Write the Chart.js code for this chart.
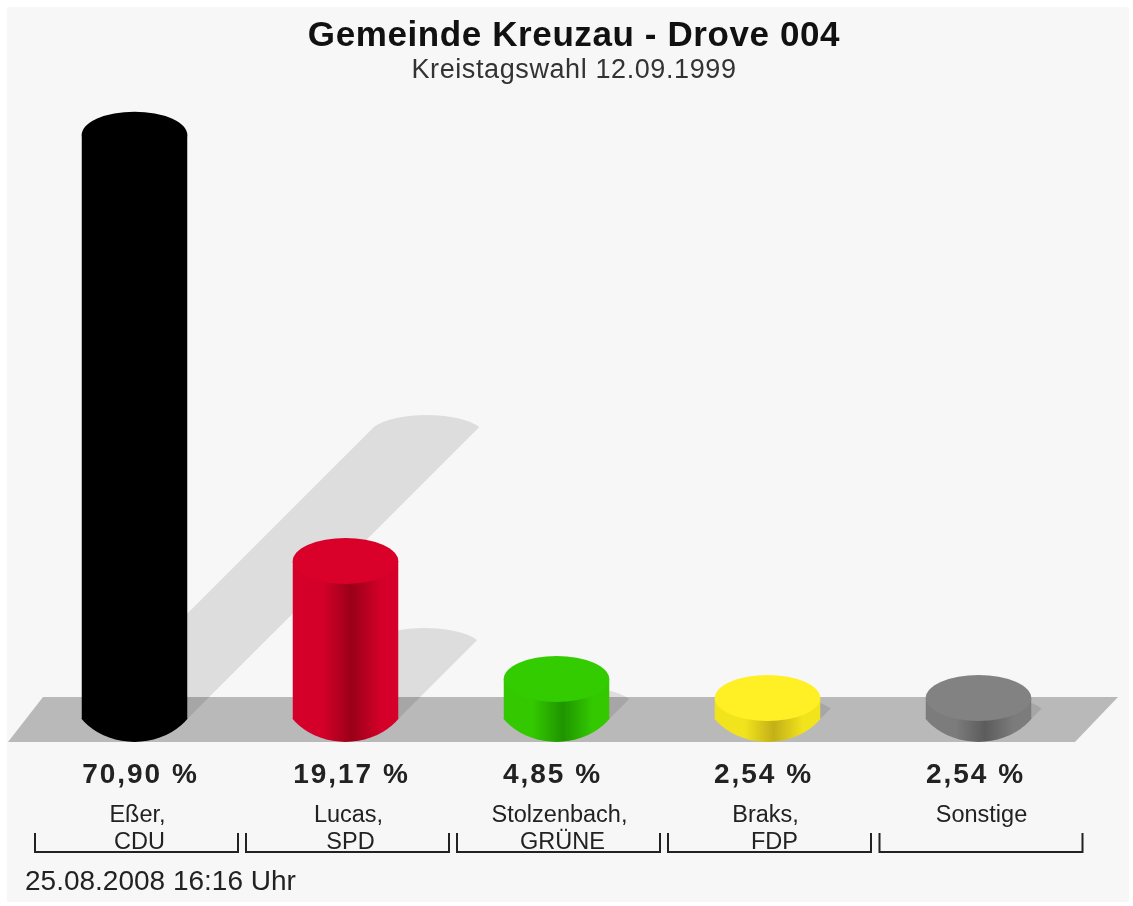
<!DOCTYPE html>
<html>
<head>
<meta charset="utf-8">
<title>Gemeinde Kreuzau - Drove 004</title>
<style>
  body { margin: 0; background: #fff; }
  canvas { display: block; filter: blur(0.5px); }
</style>
</head>
<body>
<canvas id="myChart" width="1133" height="906"></canvas>
<script src="https://cdn.jsdelivr.net/npm/chart.js@4/dist/chart.umd.js"></script>
<script>
const categories = [['Eßer,', 'CDU'], ['Lucas,', 'SPD'], ['Stolzenbach,', 'GRÜNE'], ['Braks,', 'FDP'], ['Sonstige']];
const values = [70.90, 19.17, 4.85, 2.54, 2.54];
const titleText = 'Gemeinde Kreuzau - Drove 004';
const subtitleText = 'Kreistagswahl 12.09.1999';
const footerText = '25.08.2008 16:16 Uhr';

// farben: seite, dunkle mitte, deckel
const sideColors = ['#000000', '#d4002a', '#33c800', '#f2e41c', '#7c7c7c'];
const darkColors = ['#000000', '#9a0018', '#1f9400', '#c2b018', '#5c5c5c'];
const topColors = ['#000000', '#d9002a', '#33cc00', '#fff026', '#828282'];

// die beschriftungen sitzen im original nicht genau mittig
const valueNudge = [6, 6, -4, -4, -3];
const nameNudge = [[3, 5], [3, 5], [3, 6], [-2, 7], [3]];
const bracketNudge = [2, 2, 2, 2, 2.5];

const textColor = '#222222';
const ry = 23;

function sideGradient(c, left, width, i) {
  let g = c.createLinearGradient(left, 0, left + width, 0);
  g.addColorStop(0, sideColors[i]);
  g.addColorStop(0.28, sideColors[i]);
  g.addColorStop(0.56, darkColors[i]);
  g.addColorStop(0.84, sideColors[i]);
  g.addColorStop(1, sideColors[i]);
  return g;
}

const cylinders = {
  id: 'cylinders',
  // boden und schatten liegen hinter den balken
  beforeDatasetsDraw(chart) {
    const c = chart.ctx;
    const y = chart.scales.y;
    const area = chart.chartArea;
    const base = y.getPixelForValue(0);

    c.save();
    c.fillStyle = '#b9b9b9';
    c.beginPath();
    c.moveTo(area.left + 14, base - 22);
    c.lineTo(area.right + 34, base - 22);
    c.lineTo(area.right - 9, base + 23);
    c.lineTo(area.left - 21, base + 23);
    c.closePath();
    c.fill();

    chart.getDatasetMeta(0).data.forEach((bar, i) => {
      const half = bar.width / 2;
      const d = (base - y.getPixelForValue(values[i])) / 2;
      const top = base - d;
      c.fillStyle = 'rgba(0,0,0,0.1)';
      c.beginPath();
      c.moveTo(bar.x - half, base);
      c.lineTo(bar.x - half + d, top);
      c.bezierCurveTo(bar.x - half * 0.6 + d, top - 16, bar.x + half * 0.6 + d, top - 16, bar.x + half + d, top);
      c.lineTo(bar.x + half, base);
      c.closePath();
      c.fill();
    });
    c.restore();
  },
  afterDatasetsDraw(chart) {
    const c = chart.ctx;
    const y = chart.scales.y;
    const base = y.getPixelForValue(0);

    chart.getDatasetMeta(0).data.forEach((bar, i) => {
      const half = bar.width / 2;
      const left = bar.x - half;

      // unterer bogen, flacher als der deckel
      c.save();
      c.beginPath();
      c.rect(left, base - 1, bar.width, ry + 4);
      c.clip();
      c.fillStyle = sideGradient(c, left, bar.width, i);
      c.beginPath();
      c.ellipse(bar.x, base - 34.5, half * 1.25, 57.5, 0, 0, 2 * Math.PI);
      c.fill();
      c.restore();

      // deckel
      c.fillStyle = topColors[i];
      c.beginPath();
      c.ellipse(bar.x, bar.y, half, ry, 0, 0, 2 * Math.PI);
      c.fill();
    });
  }
};

const texts = {
  id: 'texts',
  afterDraw(chart) {
    const c = chart.ctx;
    const x = chart.scales.x;

    c.save();
    c.fillStyle = textColor;
    c.strokeStyle = textColor;
    c.textBaseline = 'alphabetic';

    chart.data.labels.forEach((label, i) => {
      const center = x.getPixelForTick(i);

      c.textAlign = 'center';
      c.font = 'bold 28px "Liberation Sans"';
      c.letterSpacing = '2px';
      c.fillText(values[i].toFixed(2).replace('.', ',') + ' %', center + valueNudge[i], 783);

      c.font = '23.5px "Liberation Sans"';
      c.letterSpacing = '0px';
      label.forEach((line, n) => {
        c.fillText(line, center + nameNudge[i][n], 822 + n * 27);
      });

      // klammer unter der spalte
      const mid = center + bracketNudge[i];
      c.lineWidth = 2;
      c.beginPath();
      c.moveTo(mid - 101.5, 833);
      c.lineTo(mid - 101.5, 852);
      c.lineTo(mid + 101.5, 852);
      c.lineTo(mid + 101.5, 833);
      c.stroke();
    });

    c.textAlign = 'left';
    c.font = '28px "Liberation Sans"';
    c.fillText(footerText, 25, 890);
    c.restore();
  }
};

const background = {
  id: 'background',
  beforeDraw(chart) {
    // weisser rand wie im original
    chart.ctx.fillStyle = '#f7f7f7';
    chart.ctx.fillRect(7, 7, 1122, 895);
    // titel und untertitel sind leicht gesperrt
    chart.ctx.letterSpacing = '0.6px';
  }
};

new Chart(document.getElementById('myChart'), {
  type: 'bar',
  data: {
    labels: categories,
    datasets: [{
      data: values,
      borderWidth: 0,
      categoryPercentage: 0.5,
      barPercentage: 1,
      backgroundColor(ctx) {
        if (ctx.dataIndex === undefined || !ctx.chart.chartArea) return '#000000';
        const width = ctx.chart.scales.x.width / categories.length / 2;
        const left = ctx.chart.scales.x.getPixelForTick(ctx.dataIndex) - width / 2;
        return sideGradient(ctx.chart.ctx, left, width, ctx.dataIndex);
      }
    }]
  },
  plugins: [background, cylinders, texts],
  options: {
    responsive: false,
    animation: false,
    layout: { padding: { left: 29, right: 14, top: 0, bottom: 0 } },
    plugins: {
      legend: { display: false },
      tooltip: { enabled: false },
      title: {
        display: true,
        text: titleText,
        color: '#111111',
        font: { family: 'Liberation Sans', size: 35, weight: 'bold', lineHeight: '40px' },
        padding: { top: 16, bottom: 0 }
      },
      subtitle: {
        display: true,
        text: subtitleText,
        color: '#333333',
        font: { family: 'Liberation Sans', size: 27, lineHeight: '30px' },
        padding: { top: 0, bottom: 15 }
      }
    },
    scales: {
      x: {
        grid: { display: false },
        border: { display: false },
        ticks: { display: false },
        afterFit(scale) { scale.height = 187; }
      },
      y: {
        position: 'right',
        min: 0,
        max: 75,
        grid: { display: false },
        border: { display: false },
        ticks: { display: false },
        afterFit(scale) { scale.width = 35; }
      }
    }
  }
});
</script>
</body>
</html>
